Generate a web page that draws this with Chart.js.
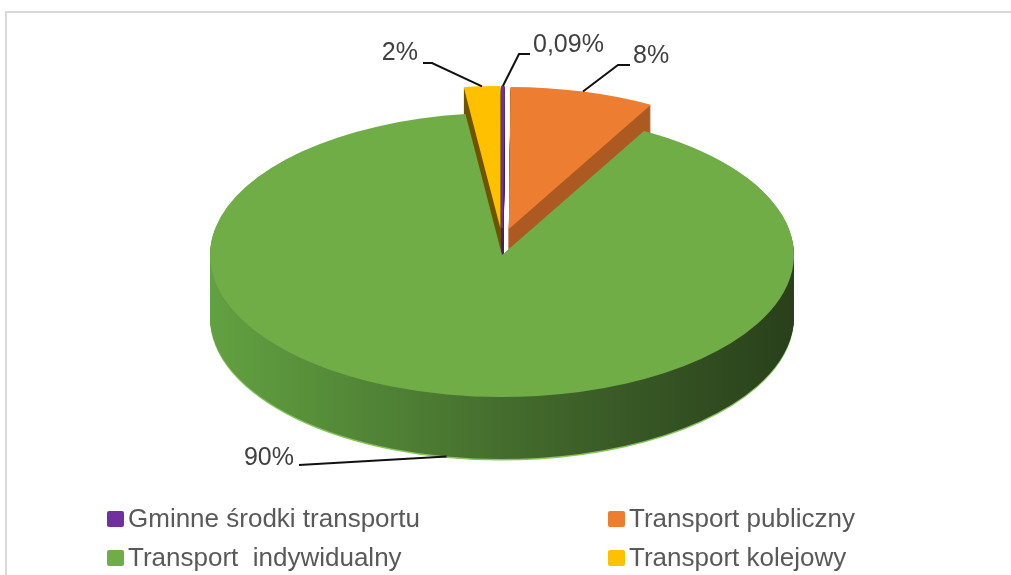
<!DOCTYPE html>
<html lang="pl">
<head>
<meta charset="utf-8">
<title>Struktura przewozów</title>
<script src="https://cdn.jsdelivr.net/npm/chart.js@4.4.1/dist/chart.umd.min.js"></script>
<style>
  html, body { margin: 0; padding: 0; background: #fff; }
  #wrap { position: relative; width: 1011px; height: 575px; }
</style>
</head>
<body>
<div id="wrap"><canvas id="modalSplit"></canvas></div>
<script>
// Modal split data (percent)
const categories = ['Gminne środki transportu', 'Transport publiczny', 'Transport  indywidualny', 'Transport kolejowy'];
const shares = [0.09, 8, 90, 2];

const topColors = ['#7030a0', '#ed7d31', '#70ad47', '#ffc000'];
const sideColors = ['#4b2070', '#ad5a22', null, '#705500'];
const rimColors = ['#4b2070', '#ad5a22', '#88c35e', '#705500'];
const explode = [27, 27, 0, 27];
const edgeWidth = [1, 0, 0, 0];   // keeps the hairline slice visible

const STRETCH_X = 292 / 142;   // pie is drawn round, then widened into a disc
const DEPTH = 62;              // height of the disc wall

// label placement: text anchor and leader bend points
const labelLayout = [
    {tx: 533, ty: 45, align: 'left',  bend: [[519, 54], [530, 54]]},
    {tx: 633, ty: 56, align: 'left',  bend: [[618, 65], [630, 65]]},
    {tx: 294, ty: 458, align: 'right', bend: [[299, 465]]},
    {tx: 418, ty: 53, align: 'right', bend: [[432, 63], [423, 63]]}
];
const legendSlots = [[107, 519], [608, 519], [107, 558], [608, 558]];

function fmtPct(v) {
    return String(v).replace('.', ',') + '%';
}

function explodeShift(arc, i) {
    const mid = (arc.startAngle + arc.endAngle) / 2;
    return {dx: Math.cos(mid) * explode[i], dy: Math.sin(mid) * explode[i]};
}

// draw one slice with another fill, shifted down by dy
function paintArc(ctx, arc, i, dy, fill) {
    const s = explodeShift(arc, i);
    const saved = arc.options;
    ctx.save();
    ctx.translate(s.dx, s.dy + dy);
    ctx.translate(arc.x, arc.y);
    ctx.scale(STRETCH_X, 1);
    ctx.translate(-arc.x, -arc.y);
    arc.options = Object.assign({}, saved, {
        backgroundColor: fill,
        borderColor: fill,
        borderWidth: edgeWidth[i],
        borderAlign: 'center',
        offset: 0
    });
    arc.draw(ctx);
    arc.options = saved;
    ctx.restore();
}

const pie3d = {
    id: 'pie3d',
    beforeDatasetsDraw(chart) {
        const ctx = chart.ctx;
        const arcs = chart.getDatasetMeta(0).data;
        const cx = arcs[0].x, r = arcs[0].outerRadius;

        const wall = ctx.createLinearGradient(cx - r, 0, cx + r, 0);
        wall.addColorStop(0, '#62a141');
        wall.addColorStop(0.35, '#4d7d33');
        wall.addColorStop(0.65, '#3c5e28');
        wall.addColorStop(1, '#29401b');

        arcs.forEach((arc, i) => paintArc(ctx, arc, i, DEPTH + 1.5, rimColors[i]));
        for (let d = DEPTH; d >= 1; d--) {
            arcs.forEach((arc, i) => paintArc(ctx, arc, i, d, sideColors[i] || wall));
        }
        arcs.forEach((arc, i) => paintArc(ctx, arc, i, 0, topColors[i]));
        return false;
    },
    afterDraw(chart) {
        const ctx = chart.ctx;
        const arcs = chart.getDatasetMeta(0).data;

        // frame
        ctx.save();
        ctx.strokeStyle = '#d9d9d9';
        ctx.lineWidth = 2;
        ctx.strokeRect(6, 12, 1200, 800);
        ctx.restore();

        // value labels with leader lines
        ctx.save();
        ctx.font = '25px "Liberation Sans", Arial, sans-serif';
        ctx.textBaseline = 'middle';
        arcs.forEach((arc, i) => {
            const s = explodeShift(arc, i);
            const mid = (arc.startAngle + arc.endAngle) / 2;
            const onWall = Math.sin(mid) > 0.5;
            const ax = arc.x + Math.cos(mid) * arc.outerRadius * STRETCH_X + s.dx;
            const ay = arc.y + Math.sin(mid) * arc.outerRadius + s.dy + (onWall ? DEPTH : 0);
            const L = labelLayout[i];

            ctx.strokeStyle = '#111';
            ctx.lineWidth = 2;
            ctx.beginPath();
            ctx.moveTo(ax, ay);
            L.bend.forEach(p => ctx.lineTo(p[0], p[1]));
            ctx.stroke();

            ctx.fillStyle = '#404040';
            ctx.textAlign = L.align;
            ctx.fillText(fmtPct(shares[i]), L.tx, L.ty);
        });
        ctx.restore();

        // legend in two columns
        ctx.save();
        ctx.font = '26px "Liberation Sans", Arial, sans-serif';
        ctx.textBaseline = 'middle';
        ctx.textAlign = 'left';
        categories.forEach((name, i) => {
            const [x, y] = legendSlots[i];
            ctx.fillStyle = topColors[i];
            ctx.beginPath();
            ctx.roundRect(x, y - 8, 17, 16, 2);
            ctx.fill();
            ctx.fillStyle = '#595959';
            ctx.fillText(name, x + 21, y + 1);
        });
        ctx.restore();
    }
};

const chart = new Chart(document.getElementById('modalSplit'), {
    type: 'pie',
    data: {
        labels: categories,
        datasets: [{
            data: shares,
            backgroundColor: topColors,
            borderWidth: 0,
            radius: 142
        }]
    },
    options: {
        responsive: true,
        maintainAspectRatio: false,
        animation: false,
        events: [],
        layout: {
            padding: {left: 0, right: 7, top: 0, bottom: 65}
        },
        plugins: {
            legend: {display: false},
            tooltip: {enabled: false}
        }
    },
    plugins: [pie3d]
});
</script>
</body>
</html>
